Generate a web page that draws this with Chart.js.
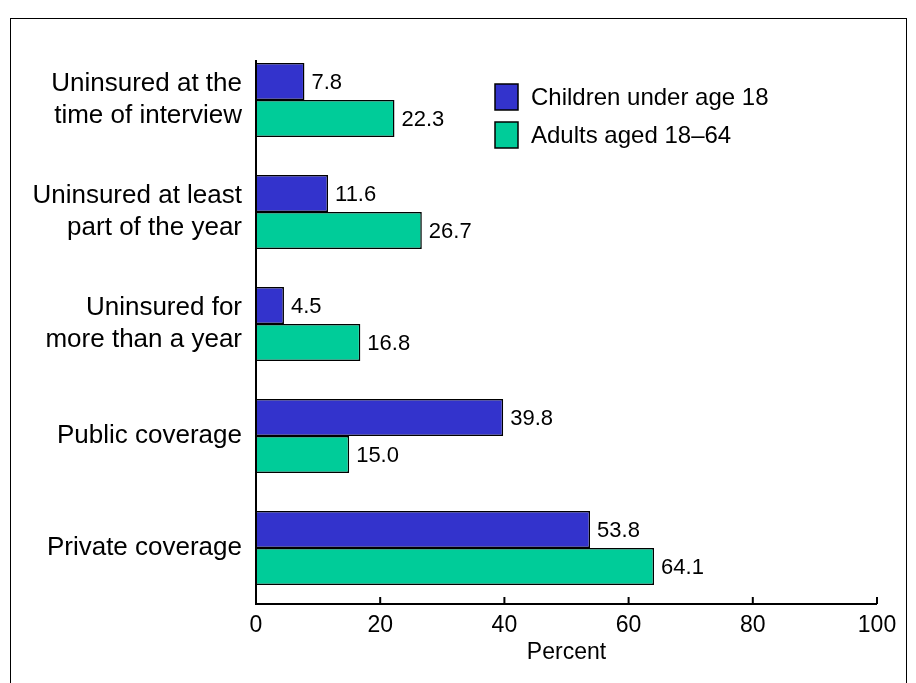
<!DOCTYPE html>
<html>
<head>
<script src="https://cdn.jsdelivr.net/npm/chart.js@4/dist/chart.umd.min.js"></script>
<style>
body { margin: 0; background: #fff; }
#wrap { position: relative; width: 916px; height: 683px; overflow: hidden; }
#frame { position: absolute; left: 10px; top: 18px; width: 895px; height: 700px; border: 1px solid #000; }
canvas { position: absolute; left: 0; top: 0; }
</style>
</head>
<body>
<div id="wrap">
<div id="frame"></div>
<canvas id="BarChart" width="916" height="683"></canvas>
</div>
<script>
var categories = [
    ['Uninsured at the', 'time of interview'],
    ['Uninsured at least', 'part of the year'],
    ['Uninsured for', 'more than a year'],
    'Public coverage',
    'Private coverage'
];
var children = [7.8, 11.6, 4.5, 39.8, 53.8];
var adults = [22.3, 26.7, 16.8, 15.0, 64.1];
var xTicks = [0, 20, 40, 60, 80, 100];
var seriesNames = ['Children under age 18', 'Adults aged 18\u201364'];
var seriesColors = ['#3333cc', '#00cc99'];

var font = 'Liberation Sans, Arial, sans-serif';

var extras = {
    id: 'extras',
    afterDatasetsDraw: function (chart) {
        var c = chart.ctx;
        var xs = chart.scales.x;
        var area = chart.chartArea;
        c.save();
        // axes lines and inward ticks
        c.strokeStyle = '#000';
        c.lineWidth = 2;
        c.beginPath();
        c.moveTo(area.left, 60);
        c.lineTo(area.left, area.bottom);
        c.lineTo(area.right, area.bottom);
        xTicks.forEach(function (t) {
            var px = xs.getPixelForValue(t);
            c.moveTo(px, area.bottom);
            c.lineTo(px, area.bottom - 7);
        });
        c.stroke();
        // value labels
        c.font = '22px ' + font;
        c.fillStyle = '#000';
        c.textBaseline = 'middle';
        chart.data.datasets.forEach(function (ds, i) {
            chart.getDatasetMeta(i).data.forEach(function (bar, j) {
                c.fillText(ds.data[j].toFixed(1), bar.x + 7, bar.y + 1);
            });
        });
        // legend
        c.font = '24px ' + font;
        c.lineWidth = 1.5;
        for (var k = 0; k < 2; k++) {
            var y = 84 + k * 38;
            c.fillStyle = seriesColors[k];
            c.fillRect(495, y, 23, 26);
            c.strokeRect(495, y, 23, 26);
            c.fillStyle = '#000';
            c.fillText(seriesNames[k], 531, y + 14);
        }
        c.restore();
    }
};

var ctx = document.getElementById('BarChart').getContext('2d');
var myChart = new Chart(ctx, {
    type: 'bar',
    data: {
        labels: categories,
        datasets: [{
            label: seriesNames[0],
            data: children,
            backgroundColor: seriesColors[0],
            borderColor: '#000',
            borderWidth: 1.5
        }, {
            label: seriesNames[1],
            data: adults,
            backgroundColor: seriesColors[1],
            borderColor: '#000',
            borderWidth: 1.5
        }]
    },
    plugins: [extras],
    options: {
        indexAxis: 'y',
        responsive: false,
        animation: false,
        layout: { padding: { top: 44, right: 39, left: 0, bottom: 17 } },
        datasets: { bar: { categoryPercentage: 0.66, barPercentage: 1.0 } },
        plugins: { legend: { display: false }, tooltip: { enabled: false } },
        scales: {
            x: {
                min: 0, max: 100,
                ticks: { stepSize: 20, color: '#000', font: { family: font, size: 23 }, padding: 0 },
                grid: { display: false },
                border: { display: false },
                title: { display: true, text: 'Percent', color: '#000', font: { family: font, size: 23 }, padding: 0 },
                afterFit: function (a) { a.height = 62; }
            },
            y: {
                ticks: { color: '#000', font: { family: font, size: 26, lineHeight: 1.25 }, padding: 6 },
                grid: { display: false },
                border: { display: false },
                afterFit: function (a) { a.width = 256; }
            }
        }
    }
});
</script>
</body>
</html>
